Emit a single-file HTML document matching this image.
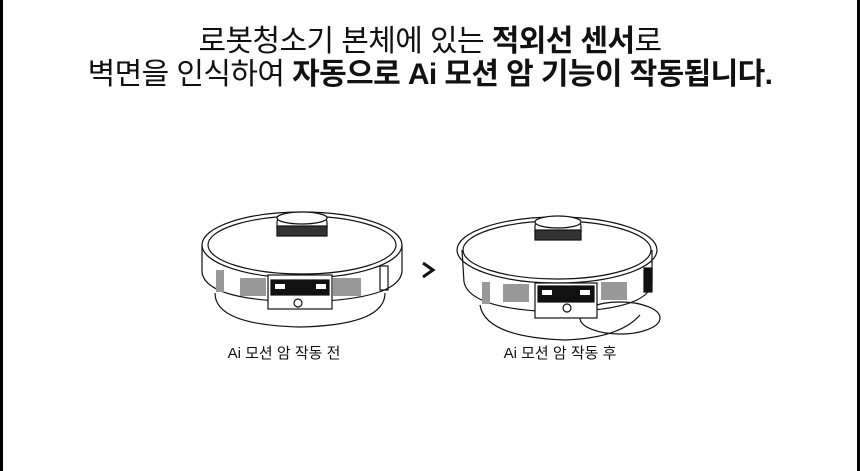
<!DOCTYPE html>
<html><head><meta charset="utf-8"><style>
html,body{margin:0;padding:0;background:#fff}
body{width:860px;height:471px;position:relative;overflow:hidden;font-family:"Liberation Sans","Noto Sans CJK KR",sans-serif;color:#111}
.bl{position:absolute;top:0;bottom:0;width:3px;background:#000}
.t{position:absolute;left:0;width:860px;text-align:center;font-size:30px;letter-spacing:-0.6px;line-height:1}
.t b{font-weight:700}
.lab{position:absolute;font-size:15px;top:342px;text-align:center;width:200px}
</style></head><body>
<div class="bl" style="left:0"></div><div class="bl" style="right:0"></div>
<div class="t" style="top:27px">로봇청소기 본체에 있는 <b>적외선 센서</b>로</div>
<div class="t" style="top:60px">벽면을 인식하여 <b>자동으로 Ai 모션 암 기능이 작동됩니다.</b></div>
<svg width="860" height="471" style="position:absolute;left:0;top:0" fill="none" stroke="#111" stroke-width="1.2">
<!-- robot 1 -->
<g>
<path d="M215,293 Q215,325 300,327 Q385,325 385,293"/>
<path d="M202,245 L202,272 Q205,300 300,302 Q398,300 402,272 L402,245"/>
<ellipse cx="302" cy="245" rx="100" ry="33"/>
<ellipse cx="302" cy="245" rx="94" ry="29"/>
<rect x="277" y="218" width="50" height="14" rx="4" fill="#fff"/>
<rect x="277" y="226" width="50" height="10" fill="#333"/>
<ellipse cx="302" cy="218" rx="25" ry="6" fill="#fff"/>
<rect x="216" y="270" width="8" height="22" fill="#999" stroke="none"/>
<rect x="240" y="278" width="26" height="18" fill="#999" stroke="none"/>
<rect x="333" y="278" width="28" height="18" fill="#999" stroke="none"/>
<rect x="380" y="266" width="8" height="24"/>
<rect x="268" y="275" width="64" height="34" fill="#fff"/>
<rect x="271" y="280" width="58" height="15" fill="#111"/>
<rect x="275" y="284" width="10" height="5" fill="#fff" stroke="none"/>
<rect x="316" y="284" width="10" height="5" fill="#fff" stroke="none"/>
<circle cx="298" cy="303" r="4"/>
</g>
<!-- arrow -->
<path d="M423,263 L433,270 L423,277" stroke-width="3"/>
<!-- robot 2 -->
<g>
<path d="M480,305 Q485,337 565,340 Q620,338 640,315"/>
<ellipse cx="620" cy="318" rx="40" ry="16"/>
<path d="M462,250 L464,282 Q470,310 560,312 Q650,310 652,282 L652,250"/>
<ellipse cx="557" cy="250" rx="100" ry="33"/>
<ellipse cx="557" cy="250" rx="94" ry="29"/>
<rect x="535" y="222" width="46" height="14" rx="4" fill="#fff"/>
<rect x="535" y="230" width="46" height="10" fill="#333"/>
<ellipse cx="558" cy="222" rx="23" ry="6" fill="#fff"/>
<rect x="482" y="282" width="8" height="22" fill="#999" stroke="none"/>
<rect x="503" y="284" width="26" height="18" fill="#999" stroke="none"/>
<rect x="601" y="282" width="26" height="18" fill="#999" stroke="none"/>
<rect x="644" y="268" width="8" height="24" fill="#111"/>
<rect x="535" y="283" width="62" height="35" fill="#fff"/>
<rect x="538" y="286" width="56" height="16" fill="#111"/>
<rect x="542" y="290" width="10" height="5" fill="#fff" stroke="none"/>
<rect x="580" y="290" width="10" height="5" fill="#fff" stroke="none"/>
<circle cx="567" cy="308" r="4"/>
</g>
</svg>
<div class="lab" style="left:184px">Ai 모션 암 작동 전</div>
<div class="lab" style="left:460px">Ai 모션 암 작동 후</div>
</body></html>
